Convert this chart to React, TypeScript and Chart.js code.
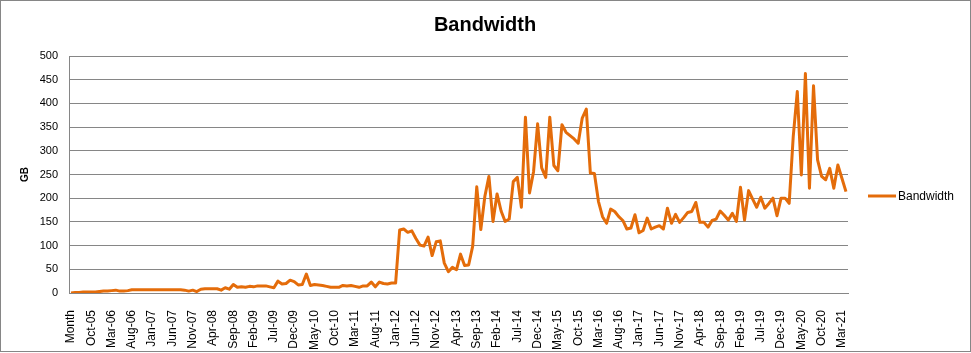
import React, { useEffect, useRef } from "react";
import { Chart, registerables } from "chart.js";

Chart.register(...registerables);

const MONTH_NAMES = ["Jan", "Feb", "Mar", "Apr", "May", "Jun", "Jul", "Aug", "Sep", "Oct", "Nov", "Dec"];
const FIRST_YEAR = 2005;
const FIRST_MONTH_INDEX = 5; // Jun-05
const MONTH_COUNT = 191; // Jun-05 .. Apr-21
const HEADER_LABEL = "Month";

const monthLabels: string[] = [];
for (let k = 0; k < MONTH_COUNT; k++) {
  const m = FIRST_MONTH_INDEX + k;
  const yr = FIRST_YEAR + Math.floor(m / 12);
  monthLabels.push(MONTH_NAMES[m % 12] + "-" + String(yr % 100).padStart(2, "0"));
}
const categories = [HEADER_LABEL, ...monthLabels];

const bandwidth = [
  0,
  1, 1, 2, 2, 2, 2, 3, 4, 4, 5, 6, 4, 4, 5, 7, 7, 7, 7, 7,
  7, 7, 7, 7, 7, 7, 7, 7, 6, 4, 6, 3, 8, 9, 9, 9, 9, 6, 11, 8,
  18, 12, 13, 12, 14, 13, 15, 15, 15, 13, 11, 25, 19, 20, 27, 24, 17, 18, 40, 16,
  18, 17, 16, 14, 12, 12, 12, 16, 15, 16, 14, 12, 15, 15, 23, 13, 23, 20, 19, 21,
  21, 133, 135, 128, 131, 115, 101, 99, 118, 79, 108, 110, 63, 45, 54, 49, 82, 58, 59, 99,
  224, 134, 204, 246, 151, 209, 173, 151, 156, 235, 244, 181, 371, 211, 256, 357, 264, 244, 371, 269,
  258, 355, 339, 332, 325, 316, 369, 388, 253, 252, 193, 161, 147, 177, 172, 161, 153, 135, 137, 165,
  127, 132, 158, 135, 139, 142, 135, 179, 147, 166, 149, 159, 170, 172, 191, 149, 149, 139, 153, 156,
  173, 164, 154, 168, 151, 223, 154, 216, 198, 181, 202, 179, 189, 200, 163, 200, 200, 189, 330, 425,
  249, 463, 221, 437, 281, 246, 239, 263, 221, 270, 242, 214,
];

const SERIES_NAME = "Bandwidth";
const CHART_TITLE = "Bandwidth";
const Y_TITLE = "GB";
const Y_MIN = 0;
const Y_MAX = 500;
const Y_STEP = 50;
const TICK_EVERY = 5;

const FONT = "'Liberation Sans', Arial, sans-serif";
const LINE_COLOR = "#E46C0A";
const GRID_COLOR = "#868686";

export default function App() {
  const ref = useRef<HTMLCanvasElement | null>(null);

  useEffect(() => {
    document.body.style.margin = "0";
    const canvas = ref.current;
    if (!canvas) return;

    const framePlugin = {
      id: "frameTitleLegend",
      afterDraw(chart: any) {
        const ctx = chart.ctx;
        ctx.save();
        ctx.strokeStyle = GRID_COLOR;
        ctx.lineWidth = 1;
        ctx.strokeRect(0.5, 0.5, 970, 351);
        // title
        ctx.fillStyle = "#000";
        ctx.font = "bold 20px " + FONT;
        ctx.textAlign = "center";
        ctx.textBaseline = "middle";
        ctx.fillText(CHART_TITLE, 485, 25.5);
        // legend
        const ds = chart.data.datasets[0];
        const ly = 196;
        ctx.strokeStyle = ds.borderColor;
        ctx.lineWidth = 3;
        ctx.beginPath();
        ctx.moveTo(868, ly);
        ctx.lineTo(896, ly);
        ctx.stroke();
        ctx.fillStyle = "#000";
        ctx.font = "12px " + FONT;
        ctx.textBaseline = "middle";
        ctx.textAlign = "left";
        ctx.fillText(ds.label, 898, ly + 0.5);
        ctx.restore();
      },
    };

    const chart = new Chart(canvas, {
      type: "line",
      data: {
        labels: categories,
        datasets: [
          {
            label: SERIES_NAME,
            data: bandwidth,
            borderColor: LINE_COLOR,
            backgroundColor: LINE_COLOR,
            borderWidth: 3,
            pointRadius: 0,
            tension: 0,
            borderJoinStyle: "round",
          },
        ],
      },
      options: {
        responsive: false,
        animation: false,
        devicePixelRatio: 1,
        layout: { padding: { top: 56, left: 0, right: 123, bottom: 0 } },
        plugins: {
          legend: { display: false },
          tooltip: { enabled: false },
          title: { display: false },
        },
        scales: {
          x: {
            type: "category",
            offset: true,
            grid: { display: false },
            border: { display: true, color: GRID_COLOR, width: 1 },
            ticks: {
              autoSkip: false,
              minRotation: 90,
              maxRotation: 90,
              padding: 9,
              color: "#000",
              font: { family: FONT, size: 12 },
              callback: (_v: any, i: number) => (i % TICK_EVERY === 0 ? categories[i] : null),
            },
            afterFit: (scale: any) => {
              scale.height = 60;
            },
          },
          y: {
            min: Y_MIN,
            max: Y_MAX,
            grid: { color: GRID_COLOR, drawTicks: false, lineWidth: 1 },
            border: { display: true, color: GRID_COLOR, width: 1 },
            ticks: {
              stepSize: Y_STEP,
              padding: 11,
              color: "#000",
              font: { family: FONT, size: 11 },
            },
            title: {
              display: true,
              text: Y_TITLE,
              color: "#000",
              font: { family: FONT, size: 10, weight: "bold" },
              padding: { top: 19.5, bottom: 0 },
            },
            afterFit: (scale: any) => {
              scale.width = 69;
            },
          },
        },
      },
      plugins: [framePlugin],
    } as any);

    return () => chart.destroy();
  }, []);

  return (
    <div style={{ width: 971, height: 353, background: "#fff" }}>
      <canvas ref={ref} width={971} height={353} style={{ display: "block" }} />
    </div>
  );
}
